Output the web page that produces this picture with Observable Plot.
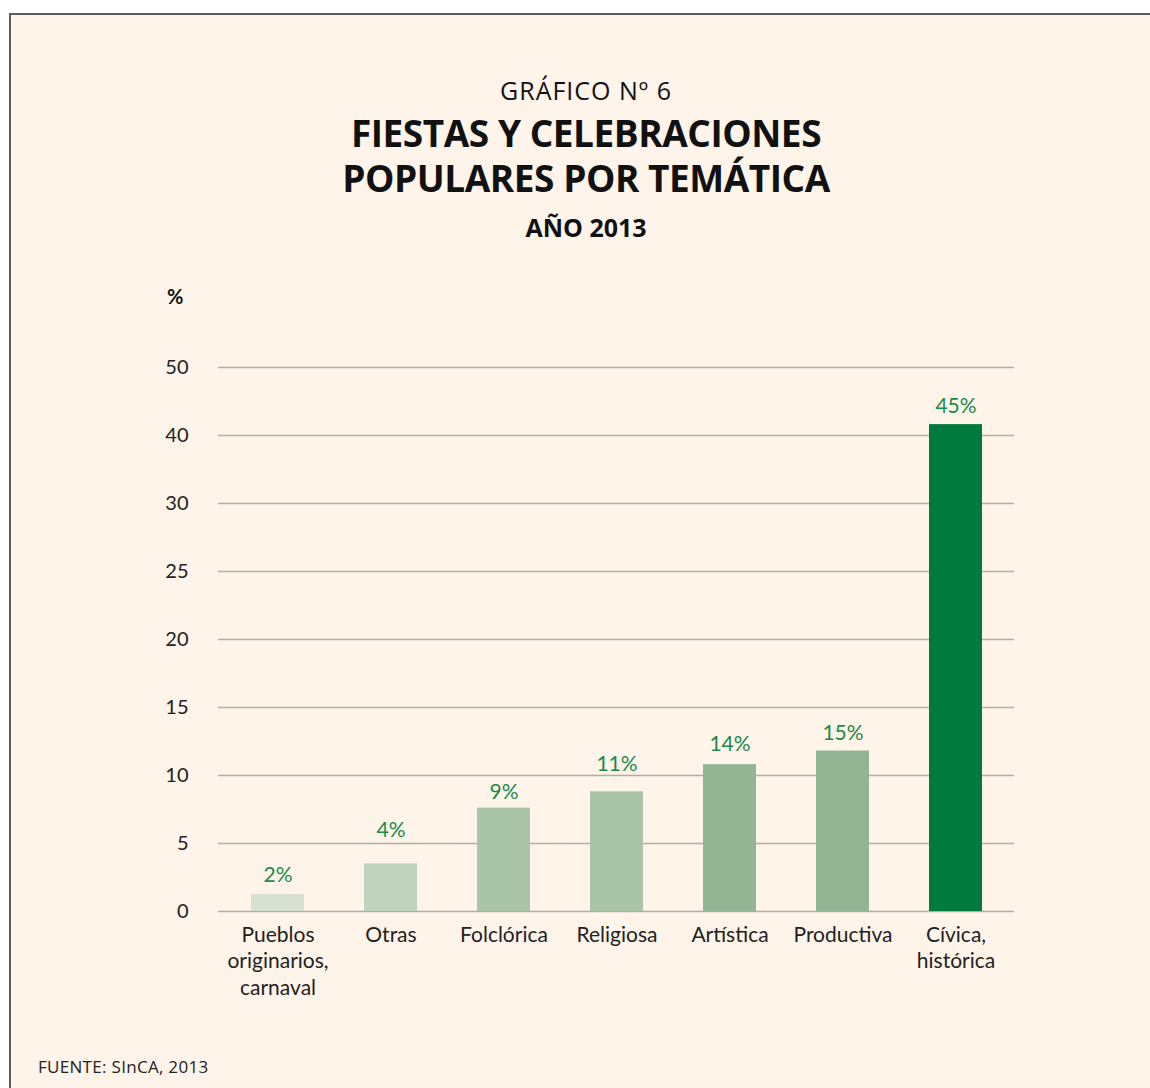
<!DOCTYPE html>
<html>
<head>
<meta charset="utf-8">
<script src="https://cdn.jsdelivr.net/npm/d3@7"></script>
<script src="https://cdn.jsdelivr.net/npm/@observablehq/plot@0.6"></script>
<style>
  html, body { margin: 0; padding: 0; background: #ffffff; }
  #frame {
    position: absolute; left: 9px; top: 13px; width: 1160px; height: 1100px;
    border-top: 2px solid #5c5c5c; border-left: 2px solid #5c5c5c;
    background: #fef4e9; box-sizing: border-box;
  }
  .t { position: absolute; left: 0; width: 1172px; text-align: center; line-height: 1; color: #111; font-family: "Open Sans", "Noto Sans", sans-serif; white-space: nowrap; }
  #pct { position: absolute; left: 167px; top: 286px; font: 700 20px "Lato", sans-serif; line-height: 1; color: #111; }
  #src { position: absolute; left: 38px; top: 1058px; font: 400 17px "Open Sans", sans-serif; line-height: 1; color: #222; letter-spacing: 0.3px; }
  #chart { position: absolute; left: 10px; top: 260px; }
</style>
</head>
<body>
<div id="frame"></div>
<div class="t" style="top:78px;font-size:25px;font-weight:400;letter-spacing:1px;">GRÁFICO Nº 6</div>
<div class="t" style="top:110px;font-size:37px;line-height:45px;font-weight:700;letter-spacing:-0.45px;">FIESTAS Y CELEBRACIONES<br>POPULARES POR TEMÁTICA</div>
<div class="t" style="top:215px;font-size:25px;font-weight:700;">AÑO 2013</div>
<div id="pct">%</div>
<div id="chart"></div>
<div id="src">FUENTE: SInCA, 2013</div>
<script>
const categories = ["Pueblos\noriginarios,\ncarnaval", "Otras", "Folclórica", "Religiosa", "Artística", "Productiva", "Cívica,\nhistórica"];
const values = [1.25, 3.5, 7.6, 8.8, 10.8, 11.8, 41.6];
const valueLabels = ["2%", "4%", "9%", "11%", "14%", "15%", "45%"];
// where each value label sits on the axis
const labelLevels = [2.7, 6.0, 8.8, 10.8, 12.3, 13.1, 44.3];
const barColors = ["#d6e1d3", "#c0d3be", "#a9c4a6", "#a9c4a6", "#93b593", "#93b593", "#007a3d"];
const yTicks = [0, 5, 10, 15, 20, 25, 30, 40, 50];
const yTickLabels = ["0", "5", "10", "15", "20", "25", "30", "40", "50"];

const data = categories.map((c, i) => ({cat: c, value: values[i], label: valueLabels[i], level: labelLevels[i], color: barColors[i]}));

const W = 1140, H = 760, mT = 107, mB = 109;
const yBottom = H - mB, yTop = mT;
const yMid = yBottom - (yBottom - yTop) * 6 / 8;

const chart = Plot.plot({
  width: W, height: H,
  marginLeft: 208, marginRight: 136, marginTop: mT, marginBottom: mB,
  style: {background: "transparent", fontFamily: "Lato, sans-serif", overflow: "visible", color: "#222"},
  x: {type: "band", domain: categories, paddingInner: 0.534, paddingOuter: 0.267, label: null},
  y: {type: "linear", domain: [0, 30, 50], range: [yBottom, yMid, yTop], label: null},
  color: {type: "identity"},
  marks: [
    Plot.ruleY(yTicks, {stroke: "#b3ada5", strokeWidth: 1.5}),
    Plot.barY(data, {x: "cat", y: "value", fill: "color"}),
    Plot.text(data, {x: "cat", y: "level", text: "label", lineAnchor: "middle", fill: "#1b8a4c", fontSize: 21}),
    Plot.axisX({tickSize: 0, tickPadding: 12, fontSize: 21, lineHeight: 1.25, fill: "#222", label: null}),
    Plot.axisY({ticks: yTicks, tickFormat: (d) => yTickLabels[yTicks.indexOf(d)], tickSize: 0, tickPadding: 30, fontSize: 20, fill: "#222", label: null})
  ]
});
document.getElementById("chart").appendChild(chart);
</script>
</body>
</html>
